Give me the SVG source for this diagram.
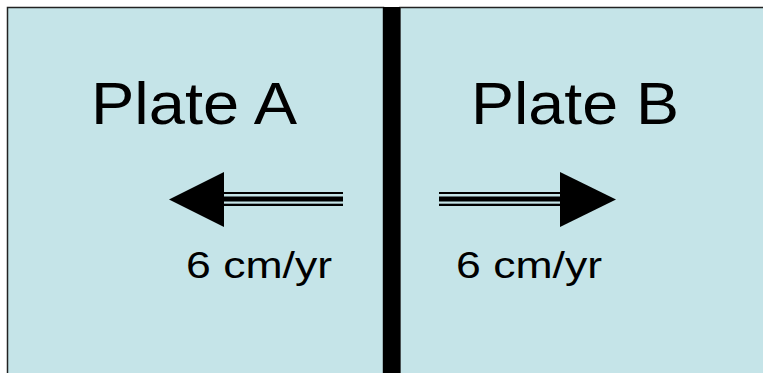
<svg xmlns="http://www.w3.org/2000/svg" width="763" height="373" viewBox="0 0 763 373">
<style>
.plate{fill:#c5e4e8;stroke:#222;stroke-width:1.5}
.big{font-family:"Liberation Sans",Arial,sans-serif;font-size:60px;fill:#000}
.small{font-family:"Liberation Sans",Arial,sans-serif;font-size:37px;fill:#000}
.blk{fill:#000}
</style>
<rect width="763" height="373" fill="#fff"/>
<g id="plateA">
<rect class="plate" x="7.5" y="7.5" width="376" height="380"/>
<text class="big" x="91" y="124" textLength="206" lengthAdjust="spacingAndGlyphs">Plate A</text>
</g>
<g id="plateB">
<rect class="plate" x="400" y="7.5" width="380" height="380"/>
<text class="big" x="471" y="124" textLength="208" lengthAdjust="spacingAndGlyphs">Plate B</text>
</g>
<g id="boundary">
<rect class="blk" x="383" y="7" width="17" height="366"/>
</g>
<g id="connectors">
<g id="arrowLeft">
<rect class="blk" x="223" y="192" width="120" height="2"/>
<rect class="blk" x="223" y="196.5" width="120" height="5"/>
<rect class="blk" x="223" y="203.7" width="120" height="2.3"/>
<polygon class="blk" points="169,199.5 224,172 224,227"/>
</g>
<g id="arrowRight">
<rect class="blk" x="439" y="192" width="122" height="2"/>
<rect class="blk" x="439" y="196.5" width="122" height="5"/>
<rect class="blk" x="439" y="203.7" width="122" height="2.3"/>
<polygon class="blk" points="616,199.5 560,172 560,227"/>
</g>
</g>
<g id="labels">
<text class="small" x="186" y="278" textLength="146" lengthAdjust="spacingAndGlyphs">6 cm/yr</text>
<text class="small" x="456" y="278" textLength="146" lengthAdjust="spacingAndGlyphs">6 cm/yr</text>
</g>
</svg>
